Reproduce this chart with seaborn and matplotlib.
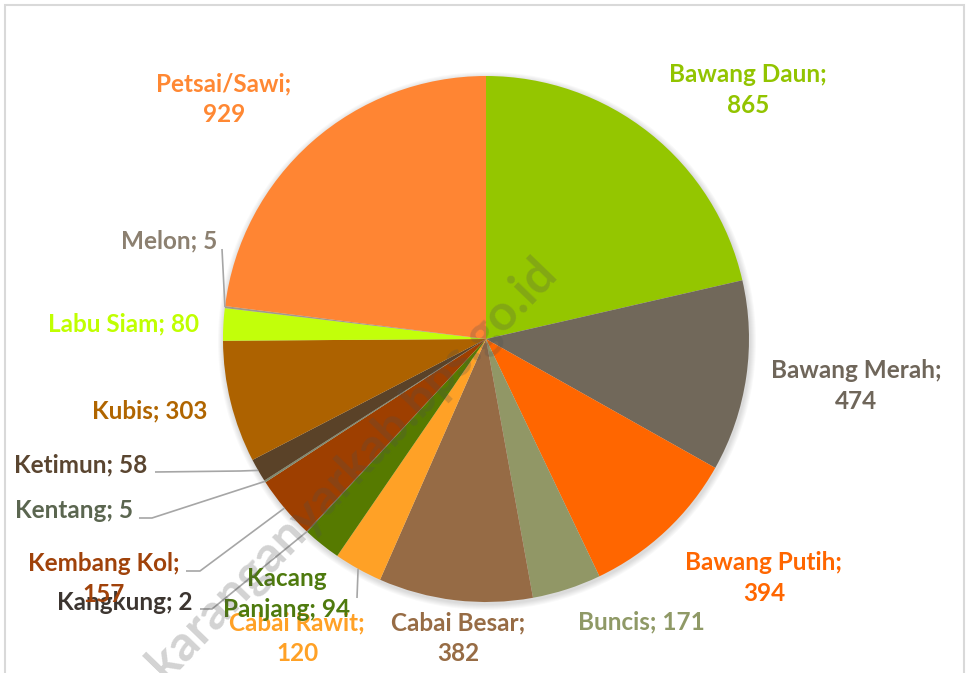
import numpy as np
import matplotlib
matplotlib.use("Agg")
import matplotlib.pyplot as plt
from matplotlib import font_manager
from matplotlib.patches import Rectangle, Circle
import seaborn as sns

# data, clockwise from the top
categories = ["Bawang Daun", "Bawang Merah", "Bawang Putih", "Buncis", "Cabai Besar",
              "Cabai Rawit", "Kacang Panjang", "Kangkung", "Kembang Kol", "Kentang",
              "Ketimun", "Kubis", "Labu Siam", "Melon", "Petsai/Sawi"]
values = [865, 474, 394, 171, 382, 120, 94, 2, 157, 5, 58, 303, 80, 5, 929]

wedge_colors = ["#94C600", "#71685A", "#FF6600", "#919766", "#966B45",
                "#FFA126", "#567A00", "#55554D", "#9E3F00", "#7F8A70",
                "#5A4228", "#AD6200", "#C2FF0A", "#A09A8A", "#FF8533"]
text_colors = ["#92C400", "#6F665A", "#FF6600", "#8F9966", "#976C45",
               "#FFA126", "#4E7A0E", "#3C3530", "#A0420A", "#5B6650",
               "#5A4530", "#B06500", "#C0FF00", "#8C8070", "#FF8833"]

W, H = 970, 673

def up(y):
    # pixel row (from top) -> axis y
    return H - y

# label layout: text, x, y (top-down px), ha, leader waypoints (top-down px)
layout = {
    "Bawang Daun": ("Bawang Daun;\n865", 748, 90, "center", None),
    "Bawang Merah": ("Bawang Merah;\n474", 856, 386, "center", None),
    "Bawang Putih": ("Bawang Putih;\n394", 764, 578, "center", None),
    "Buncis": ("Buncis; 171", 641, 622, "center", None),
    "Cabai Besar": ("Cabai Besar;\n382", 458, 638, "center", None),
    "Cabai Rawit": ("Cabai Rawit;\n120", 297, 638, "center", [(357, 598)]),
    "Kacang Panjang": ("Kacang\nPanjang; 94", 287, 594, "center", None),
    "Kangkung": ("Kangkung; 2", 193, 602, "right", [(200, 609), (212, 609)]),
    "Kembang Kol": ("Kembang Kol;\n157", 104, 579, "center", [(186, 571), (200, 571)]),
    "Kentang": ("Kentang; 5", 133, 510, "right", [(139, 518), (152, 518)]),
    "Ketimun": ("Ketimun; 58", 147, 465, "right", [(155, 472), (240, 471)]),
    "Kubis": ("Kubis; 303", 207, 411, "right", None),
    "Labu Siam": ("Labu Siam; 80", 199, 324, "right", None),
    "Melon": ("Melon; 5", 217, 241, "right", [(222, 249)]),
    "Petsai/Sawi": ("Petsai/Sawi;\n929", 224, 99, "center", None),
}

sns.set_theme(style="white")

# Lato looks closest to Calibri, but only if a bold face is installed
bold_lato = [f for f in font_manager.fontManager.ttflist
             if f.name == "Lato" and isinstance(f.weight, int) and f.weight >= 600]
family = "Lato" if bold_lato else "Open Sans"
plt.rcParams["font.family"] = [family, "DejaVu Sans"]
fsize = 17.5 if family == "Lato" else 16

fig = plt.figure(figsize=(W / 100, H / 100), dpi=100)
ax = fig.add_axes([0, 0, 1, 1])

cx, cy, r = 486, up(339), 263

# soft shadow around the pie
for k in range(6, 0, -1):
    ax.add_patch(Circle((cx + 1, cy - 2), r + k, color="black", alpha=0.025, lw=0))

wedges, _ = ax.pie(values, colors=wedge_colors, startangle=90, counterclock=False,
                   center=(cx, cy), radius=r, frame=True,
                   wedgeprops=dict(linewidth=0))
ax.set_xlim(0, W)
ax.set_ylim(0, H)
ax.set_aspect("equal")
ax.axis("off")

for w, name, tc in zip(wedges, categories, text_colors):
    txt, x, y, ha, leader = layout[name]
    ax.text(x, up(y), txt, ha=ha, va="center", color=tc, fontsize=fsize,
            fontweight="bold", linespacing=1.4)
    if leader:
        mid = np.deg2rad((w.theta1 + w.theta2) / 2)
        ex, ey = cx + r * np.cos(mid), cy + r * np.sin(mid)
        xs = [p[0] for p in leader] + [ex]
        ys = [up(p[1]) for p in leader] + [ey]
        ax.plot(xs, ys, color="#A6A6A6", lw=1.2, solid_capstyle="butt")

# watermark (runs off the bottom edge, as in the source image)
ax.text(352, up(468), "karanganyarkab.bps.go.id", rotation=46, ha="center", va="center",
        fontsize=36, fontweight="bold", color="#505050", alpha=0.25, clip_on=True)

# chart frame
fig.patches.append(Rectangle((5 / W, -0.05), 959 / W, 1 - 5 / H + 0.05,
                             transform=fig.transFigure, fill=False,
                             edgecolor="#D9D9D9", lw=1.5))

fig.savefig("out.png", dpi=100, facecolor="white")
